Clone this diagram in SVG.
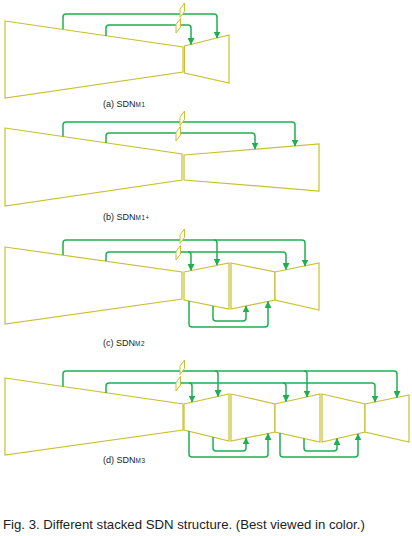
<svg xmlns="http://www.w3.org/2000/svg" width="412" height="536" viewBox="0 0 412 536">
<style>
.tr{fill:#fff;stroke:#c9c032;stroke-width:1.2;stroke-linejoin:miter}
.bk{fill:#fff;stroke:#c9c032;stroke-width:1}
.cn{fill:none;stroke:#1fae52;stroke-width:1.5;marker-end:url(#ah)}
.lb{font-family:"Liberation Sans",Arial,sans-serif;font-size:9px;fill:#222}
.sb{font-size:6.4px;letter-spacing:0.6px}
.cap{font-family:"Liberation Sans",Arial,sans-serif;font-size:13.2px;fill:#222}
</style>
<defs>
<marker id="ah" markerUnits="userSpaceOnUse" markerWidth="7" markerHeight="7" viewBox="0 0 6 6" refX="5.5" refY="3" orient="auto">
<path d="M0,0 L6,3 L0,6 z" fill="#1fae52"/>
</marker>
<polygon id="brk" points="0,6 4.5,0 4.5,8.5 0,14.5"/>
</defs>
<rect width="412" height="536" fill="#fff"/>

<!-- (a) -->
<g id="a-enc"><polygon class="tr" points="5,21 183,47 183,72 5,98"/></g>
<g id="a-dec"><polygon class="tr" points="184.5,46 229,35 229,83 184.5,73"/></g>
<g id="a-conn">
<path class="cn" d="M63,29 V17 Q63,14 66,14 H214 Q217,14 217,17 V38"/>
<path class="cn" d="M106,36 V28 Q106,25 109,25 H188 Q191,25 191,28 V44.5"/>
</g>
<g id="a-breaks">
<use href="#brk" class="bk" x="180" y="3"/>
<use href="#brk" class="bk" x="176" y="18.5"/>
</g>
<text class="lb" x="103" y="107">(a) SDN<tspan class="sb">M1</tspan></text>

<!-- (b) -->
<g id="b-enc"><polygon class="tr" points="5,128 182,154 182,180 5,206"/></g>
<g id="b-dec"><polygon class="tr" points="184,155 319,144 319,191 184,180"/></g>
<g id="b-conn">
<path class="cn" d="M63,136.5 V125 Q63,122 66,122 H292 Q295,122 295,125 V146"/>
<path class="cn" d="M106,143 V136 Q106,133 109,133 H252 Q255,133 255,136 V149"/>
</g>
<g id="b-breaks">
<use href="#brk" class="bk" x="180" y="111"/>
<use href="#brk" class="bk" x="176" y="126.5"/>
</g>
<text class="lb" x="103" y="220">(b) SDN<tspan class="sb">M1+</tspan></text>

<!-- (c) -->
<g id="c-enc"><polygon class="tr" points="5,247 182,272 182,299 5,324"/></g>
<g id="c-n2"><polygon class="tr" points="184,272 229,263 229,309 184,300"/></g>
<g id="c-n3"><polygon class="tr" points="231,263 275,272 275,300 231,309"/></g>
<g id="c-n4"><polygon class="tr" points="275,272 319,263 319,310 275,300"/></g>
<g id="c-conn">
<path class="cn" d="M63,255 V243 Q63,240 66,240 H302 Q305,240 305,243 V266"/>
<path class="cn" d="M214,240 Q217,240 217,243 V265"/>
<path class="cn" d="M106,261 V255 Q106,252 109,252 H283 Q286,252 286,255 V269.5"/>
<path class="cn" d="M188,252 Q191,252 191,255 V270.5"/>
<path class="cn" d="M189,301 V324 Q189,327 192,327 H265 Q268,327 268,324 V301.5"/>
<path class="cn" d="M213,306 V318 Q213,321 216,321 H243 Q246,321 246,318 V306"/>
</g>
<g id="c-breaks">
<use href="#brk" class="bk" x="180" y="229"/>
<use href="#brk" class="bk" x="176" y="245.5"/>
</g>
<text class="lb" x="103" y="346">(c) SDN<tspan class="sb">M2</tspan></text>

<!-- (d) -->
<g id="d-enc"><polygon class="tr" points="5,378 183,404 183,430 5,455"/></g>
<g id="d-n2"><polygon class="tr" points="184,404 229,394 229,441 184,430"/></g>
<g id="d-n3"><polygon class="tr" points="231,394 275,404 275,432 231,441"/></g>
<g id="d-n4"><polygon class="tr" points="275,404 320,394 320,442 275,432"/></g>
<g id="d-n5"><polygon class="tr" points="322,394 365,404 365,432 322,442"/></g>
<g id="d-n6"><polygon class="tr" points="365,404 409,395 409,442 365,432"/></g>
<g id="d-conn">
<path class="cn" d="M63,386.5 V374 Q63,371 66,371 H394 Q397,371 397,374 V397.5"/>
<path class="cn" d="M215,371 Q218,371 218,374 V396.5"/>
<path class="cn" d="M304,371 Q307,371 307,374 V397"/>
<path class="cn" d="M106,393 V386 Q106,383 109,383 H372 Q375,383 375,386 V402"/>
<path class="cn" d="M189,383 Q192,383 192,386 V402"/>
<path class="cn" d="M283,383 Q286,383 286,386 V401.5"/>
<path class="cn" d="M189,431 V454 Q189,457 192,457 H265 Q268,457 268,454 V433.5"/>
<path class="cn" d="M213,437 V448 Q213,451 216,451 H243 Q246,451 246,448 V438"/>
<path class="cn" d="M280,433 V454 Q280,457 283,457 H355 Q358,457 358,454 V434"/>
<path class="cn" d="M304,438.5 V448 Q304,451 307,451 H334 Q337,451 337,448 V438.5"/>
</g>
<g id="d-breaks">
<use href="#brk" class="bk" x="180" y="360"/>
<use href="#brk" class="bk" x="176" y="376.5"/>
</g>
<text class="lb" x="103" y="463">(d) SDN<tspan class="sb">M3</tspan></text>

<text class="cap" x="3" y="529">Fig. 3. Different stacked SDN structure. (Best viewed in color.)</text>
</svg>
